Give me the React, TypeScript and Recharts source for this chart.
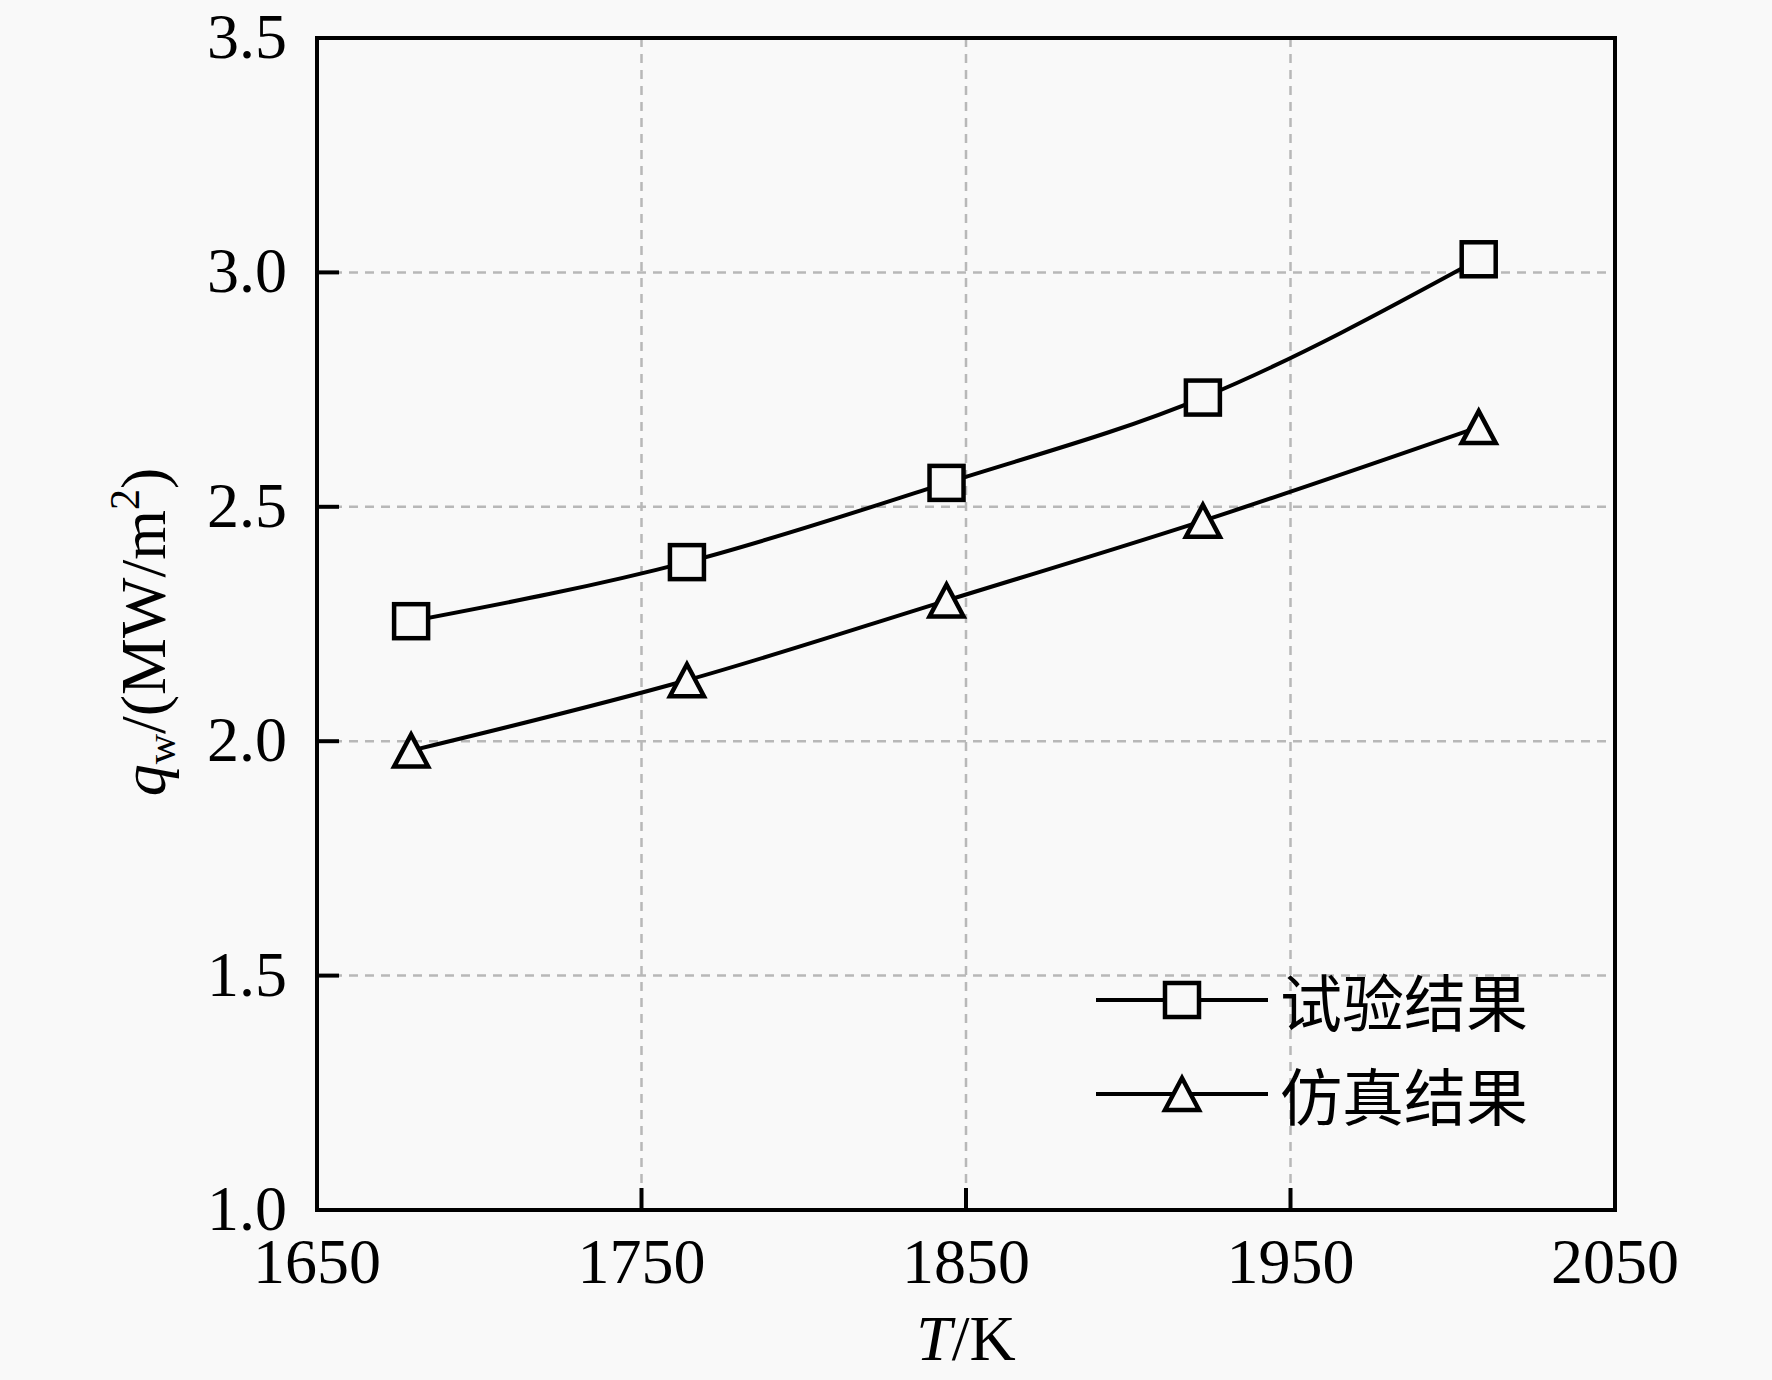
import { LineChart, Line, XAxis, YAxis, CartesianGrid, ReferenceLine, Legend } from "recharts";

const temperatures = [1679, 1764, 1844, 1923, 2008];
const testResults = [2.256, 2.382, 2.551, 2.733, 3.028];
const simResults = [1.98, 2.13, 2.3, 2.47, 2.67];

const xTicks = [1650, 1750, 1850, 1950, 2050];
const yTicks = [1.0, 1.5, 2.0, 2.5, 3.0, 3.5];

const seriesNames = { test: "试验结果", sim: "仿真结果" };

const BG = "#f9f9f9";
const SERIF = '"Liberation Serif", "Times New Roman", serif';
const CJK = '"Noto Sans CJK SC", "Noto Sans", sans-serif';

const data = temperatures.map((t, i) => ({ T: t, test: testResults[i], sim: simResults[i] }));

const SquareDot = ({ cx, cy }: any) => (
  <rect x={cx - 17} y={cy - 17} width={34} height={34} fill={BG} stroke="#000" strokeWidth={4.5} />
);

const TriangleDot = ({ cx, cy }: any) => (
  <polygon
    points={`${cx},${cy - 16} ${cx + 17},${cy + 16} ${cx - 17},${cy + 16}`}
    fill={BG}
    stroke="#000"
    strokeWidth={4.5}
    strokeLinejoin="miter"
  />
);

const XTick = ({ x, y, payload }: any) => (
  <g>
    <line x1={x} y1={y} x2={x} y2={y - 22} stroke="#000" strokeWidth={4} />
    <text x={x} y={y + 73} textAnchor="middle" fontFamily={SERIF} fontSize={64} fill="#000">
      {payload.value}
    </text>
  </g>
);

const YTick = ({ x, y, payload }: any) => (
  <g>
    <line x1={x + 30} y1={y} x2={x + 52} y2={y} stroke="#000" strokeWidth={4} />
    <text x={x} y={y + 20} textAnchor="end" fontFamily={SERIF} fontSize={64} fill="#000">
      {Number(payload.value).toFixed(1)}
    </text>
  </g>
);

const XTitle = ({ viewBox }: any) => (
  <text
    x={viewBox.x + viewBox.width / 2}
    y={viewBox.y + 150}
    textAnchor="middle"
    fontFamily={SERIF}
    fontSize={64}
    fill="#000"
  >
    <tspan fontStyle="italic">T</tspan>
    <tspan>/K</tspan>
  </text>
);

const YTitle = ({ viewBox }: any) => {
  const cx = 165;
  const cy = viewBox.y + viewBox.height / 2 + 8;
  return (
    <text
      x={cx}
      y={cy}
      transform={`rotate(-90, ${cx}, ${cy})`}
      textAnchor="middle"
      fontFamily={SERIF}
      fontSize={64}
      fill="#000"
    >
      <tspan fontStyle="italic">q</tspan>
      <tspan fontSize={42} dy={10}>w</tspan>
      <tspan dy={-10}>/(MW/m</tspan>
      <tspan fontSize={42} dy={-26}>2</tspan>
      <tspan dy={26}>)</tspan>
    </text>
  );
};

const LegendRow = ({ kind, label }: { kind: "square" | "triangle"; label: string }) => (
  <div style={{ display: "flex", alignItems: "center", height: 94 }}>
    <svg width={172} height={94} style={{ display: "block" }}>
      <line x1={0} y1={47} x2={172} y2={47} stroke="#000" strokeWidth={4} />
      {kind === "square" ? <SquareDot cx={86} cy={47} /> : <TriangleDot cx={86} cy={47} />}
    </svg>
    <span style={{ marginLeft: 12, fontFamily: CJK, fontSize: 62, lineHeight: "94px", color: "#000" }}>
      {label}
    </span>
  </div>
);

const renderLegend = () => (
  <div>
    <LegendRow kind="square" label={seriesNames.test} />
    <LegendRow kind="triangle" label={seriesNames.sim} />
  </div>
);

export default function App() {
  return (
    <div style={{ position: "absolute", left: 0, top: 0, width: 1772, height: 1380, background: BG }}>
      <LineChart width={1772} height={1380} data={data} margin={{ top: 38, right: 157, bottom: 0, left: 0 }}>
        <CartesianGrid stroke="#b8b8b8" strokeWidth={2.5} strokeDasharray="9 7" />
        <XAxis
          dataKey="T"
          type="number"
          domain={[1650, 2050]}
          ticks={xTicks}
          allowDataOverflow
          height={170}
          axisLine={{ stroke: "#000", strokeWidth: 4, strokeLinecap: "square" }}
          tickLine={false}
          tickSize={0}
          tickMargin={0}
          tick={<XTick />}
          interval={0}
          label={<XTitle />}
        />
        <YAxis
          type="number"
          domain={[1, 3.5]}
          ticks={yTicks}
          allowDataOverflow
          width={317}
          axisLine={{ stroke: "#000", strokeWidth: 4, strokeLinecap: "square" }}
          tickLine={false}
          tickSize={0}
          tickMargin={30}
          tick={<YTick />}
          interval={0}
          label={<YTitle />}
        />
        <ReferenceLine y={3.5} stroke="#000" strokeWidth={4} strokeLinecap="square" />
        <ReferenceLine x={2050} stroke="#000" strokeWidth={4} strokeLinecap="square" />
        <Line
          dataKey="test"
          type="monotone"
          stroke="#000"
          strokeWidth={4}
          dot={<SquareDot />}
          activeDot={false}
          isAnimationActive={false}
        />
        <Line
          dataKey="sim"
          type="monotone"
          stroke="#000"
          strokeWidth={4}
          dot={<TriangleDot />}
          activeDot={false}
          isAnimationActive={false}
        />
        <Legend
          layout="horizontal"
          verticalAlign="middle"
          align="center"
          content={renderLegend}
          wrapperStyle={{ position: "absolute", left: 1096, top: 953, right: "auto", bottom: "auto", width: "auto" }}
        />
      </LineChart>
    </div>
  );
}
